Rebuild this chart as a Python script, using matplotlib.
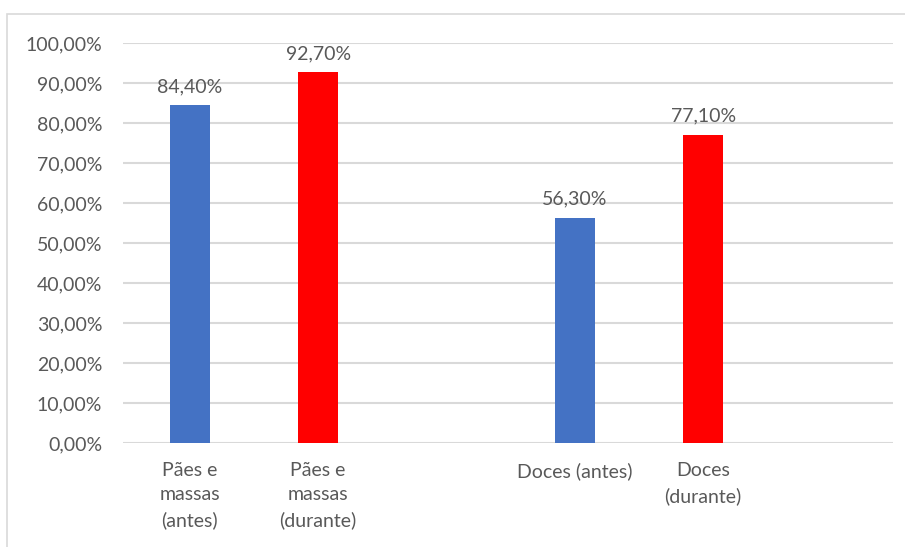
import matplotlib
matplotlib.use("Agg")
import matplotlib.pyplot as plt
from matplotlib.patches import Rectangle

categories = ["Pães e\nmassas\n(antes)", "Pães e\nmassas\n(durante)", "Doces (antes)", "Doces\n(durante)"]
positions = [0, 1, 3, 4]
values = [84.4, 92.7, 56.3, 77.1]
colors = ["#4472C4", "#FF0000", "#4472C4", "#FF0000"]
labels = ["84,40%", "92,70%", "56,30%", "77,10%"]
yticks = [0, 10, 20, 30, 40, 50, 60, 70, 80, 90, 100]
yticklabels = ["0,00%", "10,00%", "20,00%", "30,00%", "40,00%", "50,00%",
               "60,00%", "70,00%", "80,00%", "90,00%", "100,00%"]

W, H = 905, 547
fig = plt.figure(figsize=(W / 100, H / 100), dpi=100)
plt.rcParams['font.family'] = ['Lato', 'DejaVu Sans']
txt = "#595959"
fs = 14

# outer frame
fig.patches.append(Rectangle((7 / W, 0 - 0.01), 1.1, (H - 14) / H + 0.01,
                             transform=fig.transFigure, fill=False,
                             edgecolor="#d9d9d9", linewidth=1.2))

ax = fig.add_axes([123 / W, (H - 443) / H, (893 - 123) / W, 400 / H])
ax.bar([p + 0.02 for p in positions], values, width=0.31, color=colors, zorder=3)
ax.set_xlim(-0.5, 5.5)
ax.set_ylim(0, 100)
ax.set_yticks(yticks)
ax.set_yticklabels(yticklabels, fontsize=fs, color=txt)
ax.set_xticks([p + 0.02 for p in positions])
ax.set_xticklabels(categories, fontsize=fs, color=txt, linespacing=1.5, va="top")
ax.tick_params(axis="both", length=0)
ax.tick_params(axis="y", pad=15)
ax.tick_params(axis="x", pad=14)
ax.grid(axis="y", color="#d9d9d9", linewidth=1.5, zorder=0)
for s in ax.spines.values():
    s.set_visible(False)
for p, v, l in zip(positions, values, labels):
    ax.annotate(l, (p + 0.02, v), xytext=(0, 10), textcoords="offset pixels",
                ha="center", va="bottom", fontsize=fs, color=txt)

fig.savefig("out.png", dpi=100)
